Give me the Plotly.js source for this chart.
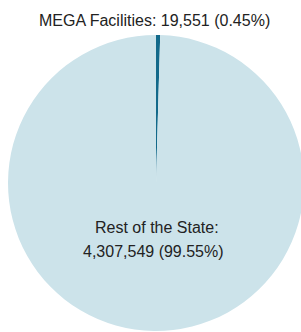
<!DOCTYPE html>
<html><head><meta charset="utf-8">
<script src="https://cdn.plot.ly/plotly-3.0.1.min.js"></script>
<style>html,body{margin:0;padding:0;overflow:hidden;background:#fff;width:301px;height:332px}</style>
</head><body><div id="chart"></div>
<script>
const labels = ["MEGA Facilities", "Rest of the State"];
const values = [19551, 4307549];
const colors = ["#12698a", "#cce3ea"];

const total = values.reduce((a, b) => a + b, 0);
const fmt = v => v.toLocaleString("en-US");
const pct = v => (v / total * 100).toFixed(2) + "%";

const data = [{
  type: "pie",
  labels: labels,
  values: values,
  sort: false,
  direction: "clockwise",
  rotation: 0,
  marker: {colors: colors, line: {color: "#cce3ea", width: 0}},
  textinfo: "none",
  hoverinfo: "none",
  showlegend: false
}];

const font = {family: "Liberation Sans, Arial, sans-serif", size: 16, color: "#222222"};
const ann = (text, x, y) => ({text: text, xref: "paper", yref: "paper", x: x, y: y,
  xanchor: "center", yanchor: "middle", showarrow: false, font: font});
const layout = {
  width: 312, height: 332,
  margin: {l: 8, r: 8, t: 35, b: 1},
  paper_bgcolor: "#ffffff",
  showlegend: false,
  annotations: [
    ann(labels[0] + ": " + fmt(values[0]) + " (" + pct(values[0]) + ")", 0.496, 1.05),
    ann(labels[1] + ":", 0.503, 0.348),
    ann(fmt(values[1]) + " (" + pct(values[1]) + ")", 0.493, 0.270)
  ]
};
Plotly.newPlot("chart", data, layout, {staticPlot: true, displayModeBar: false});
</script></body></html>
